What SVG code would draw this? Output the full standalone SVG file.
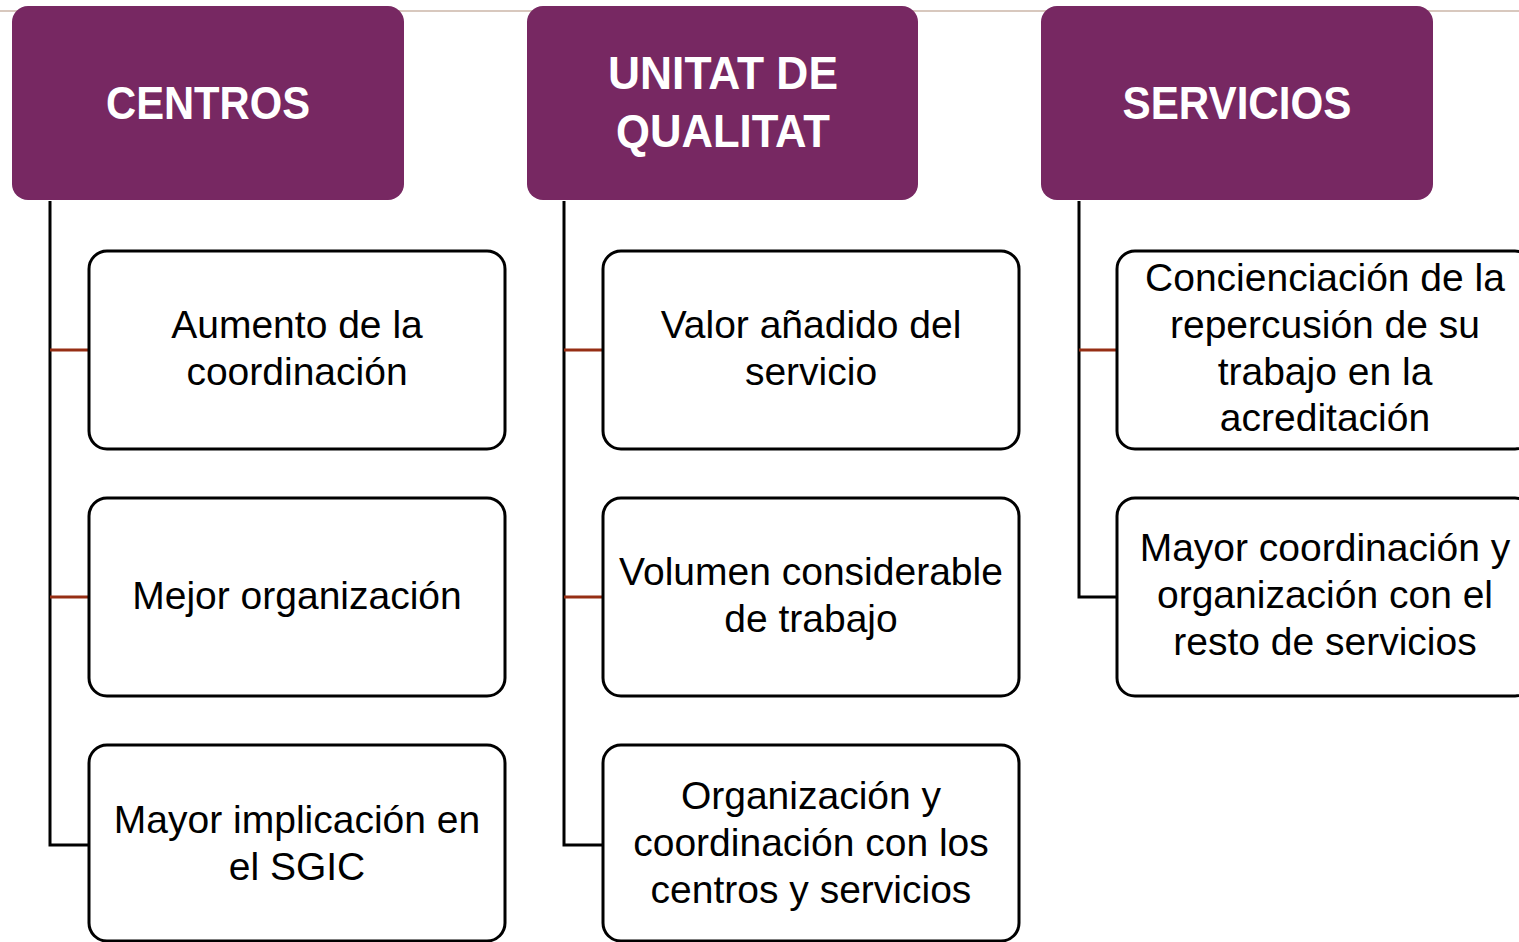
<svg xmlns="http://www.w3.org/2000/svg" width="1519" height="942" viewBox="0 0 1519 942">
<style>
.hdr{fill:#772862}
.ht{fill:#fff;font-family:"Liberation Sans",Arial,sans-serif;font-weight:bold;font-size:47px;text-anchor:middle}
.box{fill:#fff;stroke:#000;stroke-width:3}
.bt{fill:#000;font-family:"Liberation Sans",Arial,sans-serif;font-size:39px;text-anchor:middle}
.br{stroke:#962E14;stroke-width:3;fill:none}
.bk{stroke:#000;stroke-width:3;fill:none}
</style>
<rect width="1519" height="942" fill="#fff"/>
<line x1="0" y1="11" x2="1519" y2="11" stroke="#D8C8BE" stroke-width="2"/>
<g id="connectors">
<path class="bk" d="M50 201 V845 H89"/>
<path class="br" d="M50 350 H89 M50 597 H89"/>
<path class="bk" d="M564 201 V845 H603"/>
<path class="br" d="M564 350 H603 M564 597 H603"/>
<path class="bk" d="M1079 201 V597 H1117"/>
<path class="br" d="M1079 350 H1117"/>
</g>
<g id="centros">
<rect class="hdr" x="12" y="6" width="392" height="194" rx="16"/>
<text class="ht" x="208" y="119" textLength="204" lengthAdjust="spacingAndGlyphs">CENTROS</text>
</g>
<g id="unitat">
<rect class="hdr" x="527" y="6" width="391" height="194" rx="16"/>
<text class="ht" x="723" y="89" textLength="230" lengthAdjust="spacingAndGlyphs">UNITAT DE</text>
<text class="ht" x="723" y="147" textLength="214" lengthAdjust="spacingAndGlyphs">QUALITAT</text>
</g>
<g id="servicios">
<rect class="hdr" x="1041" y="6" width="392" height="194" rx="16"/>
<text class="ht" x="1237" y="119" textLength="229" lengthAdjust="spacingAndGlyphs">SERVICIOS</text>
</g>
<g id="c1">
<rect class="box" x="89" y="251" width="416" height="198" rx="18"/>
<text class="bt" x="297" y="338">Aumento de la</text>
<text class="bt" x="297" y="385">coordinación</text>
</g>
<g id="c2">
<rect class="box" x="89" y="498" width="416" height="198" rx="18"/>
<text class="bt" x="297" y="609">Mejor organización</text>
</g>
<g id="c3">
<rect class="box" x="89" y="745" width="416" height="196" rx="18"/>
<text class="bt" x="297" y="833">Mayor implicación en</text>
<text class="bt" x="297" y="880">el SGIC</text>
</g>
<g id="u1">
<rect class="box" x="603" y="251" width="416" height="198" rx="18"/>
<text class="bt" x="811" y="338">Valor añadido del</text>
<text class="bt" x="811" y="385">servicio</text>
</g>
<g id="u2">
<rect class="box" x="603" y="498" width="416" height="198" rx="18"/>
<text class="bt" x="811" y="585">Volumen considerable</text>
<text class="bt" x="811" y="632">de trabajo</text>
</g>
<g id="u3">
<rect class="box" x="603" y="745" width="416" height="196" rx="18"/>
<text class="bt" x="811" y="809">Organización y</text>
<text class="bt" x="811" y="856">coordinación con los</text>
<text class="bt" x="811" y="903">centros y servicios</text>
</g>
<g id="s1">
<rect class="box" x="1117" y="251" width="416" height="198" rx="18"/>
<text class="bt" x="1325" y="291">Concienciación de la</text>
<text class="bt" x="1325" y="338">repercusión de su</text>
<text class="bt" x="1325" y="385">trabajo en la</text>
<text class="bt" x="1325" y="431">acreditación</text>
</g>
<g id="s2">
<rect class="box" x="1117" y="498" width="416" height="198" rx="18"/>
<text class="bt" x="1325" y="561">Mayor coordinación y</text>
<text class="bt" x="1325" y="608">organización con el</text>
<text class="bt" x="1325" y="655">resto de servicios</text>
</g>
</svg>
